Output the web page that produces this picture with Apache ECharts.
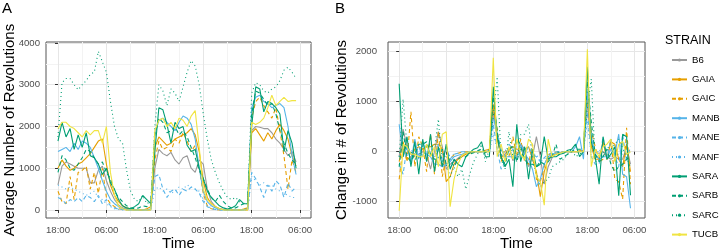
<!DOCTYPE html>
<html>
<head>
<meta charset="utf-8">
<script src="https://cdn.jsdelivr.net/npm/echarts@6/dist/echarts.min.js"></script>
<style>
  html, body { margin: 0; padding: 0; background: #fff; }
  #chart { width: 720px; height: 248px; }
</style>
</head>
<body>
<div id="chart"></div>
<script>
// hours after 18:00 on the first evening
const hours = [0, 1, 2, 3, 4, 5, 6, 7, 8, 9, 10, 11,
  12, 13, 14, 15, 16, 17, 18, 19, 20, 21, 22, 23,
  24, 25, 26, 27, 28, 29, 30, 31, 32, 33, 34, 35,
  36, 37, 38, 39, 40, 41, 42, 43, 44, 45, 46, 47,
  48, 49, 50, 51, 52, 53, 54, 55, 56, 57, 58, 59];

const tickHours = [0, 12, 24, 36, 48, 60];
const tickLabels = ['18:00', '06:00', '18:00', '06:00', '18:00', '06:00'];
const minorHours = [6, 18, 30, 42, 54];
const avgTicks = [0, 1000, 2000, 3000, 4000];
const chgTicks = [-1000, 0, 1000, 2000];

const strains = ['B6', 'GAIA', 'GAIC', 'MANB', 'MANE', 'MANF', 'SARA', 'SARB', 'SARC', 'TUCB'];
const strainColors = ['#999999', '#E69F00', '#E69F00', '#56B4E9', '#56B4E9', '#56B4E9', '#009E73', '#009E73', '#009E73', '#F0E442'];
const strainDash = ['solid', 'solid', 'dashed', 'solid', 'dashed', 'dotted', 'solid', 'dashed', 'dotted', 'solid'];

// Panel A - average number of revolutions
const avgB6 = [600, 1050, 1150, 1100, 1050, 1000, 1000, 1000, 650, 650, 950, 1050,
  700, 450, 250, 120, 50, 20, 0, 0, 0, 0, 0, 10,
  1000, 1450, 1350, 1300, 1380, 1200, 1100, 1250, 1300, 1000, 900, 1200,
  1100, 500, 200, 80, 30, 10, 0, 0, 0, 0, 0, 10,
  1900, 2000, 1980, 1950, 1950, 1850, 1700, 1600, 1450, 1300, 1400, 1150];
const avgGAIA = [1000, 1200, 1050, 950, 1000, 1100, 1150, 1250, 1350, 1500, 1650, 1700,
  1100, 600, 350, 200, 100, 50, 20, 10, 0, 0, 30, 80,
  1500, 1750, 1650, 1550, 1600, 1700, 1750, 1800, 1850, 1950, 1800, 1400,
  700, 300, 150, 80, 30, 10, 0, 0, 0, 0, 20, 50,
  1850, 1950, 1800, 1650, 1850, 1700, 1900, 2050, 1900, 1700, 1300, 1050];
const avgGAIC = [450, 200, 150, 800, 250, 900, 950, 1050, 500, 900, 400, 1000,
  300, 150, 80, 30, 10, 0, 0, 0, 0, 0, 0, 0,
  1200, 1650, 1450, 1500, 1400, 1700, 1600, 1850, 1650, 1400, 1550, 1000,
  400, 100, 30, 10, 0, 0, 0, 0, 0, 0, 0, 0,
  2200, 2600, 2700, 2500, 2350, 2200, 2450, 1900, 1300, 500, 1200, 900];
const avgMANB = [1400, 1450, 1500, 1400, 1600, 1450, 1650, 1600, 1500, 1250, 1000, 700,
  450, 250, 150, 80, 30, 10, 0, 0, 0, 0, 0, 20,
  1800, 2150, 2200, 2100, 2000, 1900, 2100, 2250, 2200, 2050, 1700, 1000,
  450, 200, 100, 50, 20, 0, 0, 0, 0, 0, 0, 30,
  2450, 2700, 2750, 2600, 2550, 2450, 2500, 2550, 2450, 2000, 1300, 850];
const avgMANE = [300, 250, 150, 250, 200, 300, 200, 350, 300, 200, 350, 150,
  250, 100, 50, 20, 10, 0, 0, 0, 0, 0, 0, 20,
  800, 850, 500, 300, 450, 500, 350, 500, 450, 550, 500, 400,
  200, 80, 30, 10, 0, 0, 0, 0, 0, 0, 0, 10,
  900, 750, 550, 300, 600, 450, 700, 600, 300, 650, 450, 550];
const avgMANF = [600, 550, 500, 550, 500, 450, 400, 350, 400, 450, 300, 250,
  150, 80, 30, 10, 0, 0, 0, 0, 0, 0, 0, 0,
  500, 550, 450, 500, 400, 450, 550, 500, 600, 550, 500, 450,
  250, 100, 50, 20, 0, 0, 0, 0, 0, 0, 0, 0,
  800, 700, 600, 650, 550, 600, 500, 450, 400, 350, 300, 300];
const avgSARA = [1650, 2100, 1750, 1950, 1450, 1800, 1500, 1850, 1300, 1250, 1100, 850,
  1000, 650, 500, 250, 100, 50, 30, 80, 150, 350, 250, 150,
  1400, 2450, 2400, 2050, 1600, 2100, 1950, 2000, 1550, 1400, 1450, 1000,
  750, 450, 300, 200, 100, 50, 20, 50, 100, 250, 150, 150,
  2000, 2950, 2900, 2350, 2600, 2550, 2450, 2300, 1400, 1900, 1600, 1000];
const avgSARB = [900, 1300, 1200, 1000, 950, 1100, 1250, 1450, 1400, 1250, 1100, 1150,
  900, 750, 450, 300, 200, 100, 50, 30, 50, 100, 80, 100,
  1800, 2200, 2100, 1850, 1900, 2000, 1800, 1900, 1750, 1500, 1250, 950,
  750, 500, 300, 200, 350, 200, 100, 50, 50, 100, 150, 200,
  2300, 2850, 2800, 2650, 2500, 2550, 2300, 1900, 1600, 1350, 1200, 1100];
const avgSARC = [1750, 3050, 3150, 3150, 3000, 2880, 3000, 3100, 3250, 3300, 3800, 3550,
  3300, 2600, 2000, 1700, 1600, 950, 450, 250, 200, 350, 150, 200,
  2000, 3000, 2850, 2500, 2900, 2800, 2600, 2950, 3300, 3580, 3450, 3000,
  2300, 1700, 1200, 900, 650, 450, 300, 250, 300, 200, 150, 150,
  2800, 3050, 3000, 2850, 2800, 2900, 2950, 3100, 3350, 3420, 3300, 3150];
const avgTUCB = [1950, 2100, 2100, 2000, 1950, 1850, 1750, 1900, 1800, 1900, 1900, 1600,
  2000, 900, 350, 100, 30, 0, 0, 0, 0, 0, 0, 0,
  1900, 2150, 2200, 2000, 2100, 1950, 2200, 2150, 2000, 2250, 2380, 1500,
  500, 250, 150, 80, 30, 0, 0, 0, 0, 0, 0, 0,
  2100, 2050, 2100, 2200, 2450, 2750, 2500, 2600, 2700, 2600, 2620, 2620];

// Panel B - change in # of revolutions
const chgB6 = [-100, 450, 100, -50, -50, -50, 0, -50, -350, 0, 400, 100,
  -350, -250, -200, -130, -70, -30, 0, 0, 0, 0, 0, 20,
  800, 300, -100, -50, 80, -180, -100, 150, 50, -300, -100, 300,
  -100, -650, -300, -120, -50, -20, 0, 0, 0, 0, 0, 10,
  1000, 100, -20, -30, 0, -100, -150, -100, -150, -150, 100, -250];
const chgGAIA = [-200, 200, -150, -100, 50, 100, 50, 100, 100, 150, 150, 50,
  -600, -500, -250, -150, -100, -50, -30, 0, 0, 0, 30, 50,
  950, 250, -100, -100, 50, 100, 50, 50, 50, 100, -150, -400,
  -900, -400, -150, -70, -50, -20, 0, 0, 0, 0, 20, 30,
  1100, 100, -150, -150, 200, -150, 200, 150, -150, -300, 150, -400];
const chgGAIC = [-550, 100, -200, 800, -300, 300, 100, -400, 350, -450, 400, -500,
  -100, -150, -60, -30, -10, 0, 0, 0, 0, 0, 0, 0,
  900, 450, -200, 50, -100, 300, -100, 250, -200, -250, 150, -550,
  -600, -300, -70, -20, -10, 0, 0, 0, 0, 0, 0, 0,
  1200, 400, 100, -200, -150, -150, 250, -550, -600, -950, 480, -650];
const chgMANB = [550, -100, 100, -200, 250, -150, 200, -50, -100, -250, -250, -300,
  -250, -200, -100, -70, -50, -20, 0, 0, 0, 0, 0, 20,
  700, 350, 50, -100, -100, -100, 200, 150, -50, -150, -350, -700,
  -550, -250, -100, -50, -30, -20, 0, 0, 0, 100, 300, -150,
  1200, 300, -50, -150, -100, -100, 50, -50, 350, -450, -500, -1130];
const chgMANE = [-250, -450, 100, -100, -50, 100, -100, 150, -50, -100, 150, -200,
  100, -150, -50, -30, 0, 0, 0, 0, 0, 0, 0, 20,
  550, 50, -350, -200, 150, 50, -150, 150, -50, 100, -50, -100,
  -200, -120, -50, -30, 0, 0, 0, 0, 0, 0, 0, 10,
  800, -100, -250, -250, 300, -150, 250, -100, -300, 350, -200, 100];
const chgMANF = [-100, -50, -50, 50, -50, -50, -50, -50, 50, 50, -150, -50,
  -100, -70, -50, -30, 0, 0, 0, 0, 0, 0, 0, 0,
  350, 50, -100, 50, -100, 50, 100, -50, 100, -50, -50, -50,
  -200, -150, -50, -20, 0, 0, 0, 0, 0, 0, 0, 0,
  600, -100, -100, 50, -100, 50, -100, -50, -50, -50, -50, 0];
const chgSARA = [1360, -100, 300, -300, 200, -450, 250, -200, 350, -400, 100, -300,
  150, -350, -150, -250, -300, -100, -20, 50, 80, 200, -100, -100,
  1300, 300, -100, -300, -150, -700, 550, -200, 100, -550, 50, -300,
  -250, 300, -150, -100, -100, -50, -30, 30, 50, 150, -100, 0,
  1700, 200, -100, -650, 300, -150, -50, 100, -880, 350, 300, -870];
const chgSARB = [-300, 400, -100, -200, -50, 150, 150, 200, -50, -150, -150, 50,
  -250, -150, -300, -150, -100, -100, -50, -20, 20, 50, -20, 20,
  1100, 400, -100, -250, 50, 100, -200, 100, -150, -250, -250, -300,
  -200, -250, -200, -100, 150, -150, -100, -50, 0, 50, 50, 50,
  1400, 600, -50, -200, -100, 50, -250, -400, -300, -250, -150, -100];
const chgSARC = [-100, 1050, 100, 0, -150, -120, 120, 100, 150, 50, 650, -250,
  -250, -500, -300, -500, -350, -750, -450, -200, -50, 150, -200, 50,
  700, 1500, -150, -350, 400, -100, -200, 350, 350, 550, -150, -450,
  -700, -600, -550, -300, -250, -200, -150, -50, 50, -100, -50, 0,
  900, 1450, -200, -150, -50, 100, 50, 150, 250, 70, -120, -300];
const chgTUCB = [-1180, 150, 100, -50, -50, -100, -100, 150, -100, 100, -300, 350,
  400, -1100, -550, -250, -70, -30, 0, 0, 0, 0, 0, 0,
  1880, -100, 150, -200, 100, -150, 250, -50, -150, 250, 150, -500,
  -600, -1070, 250, -100, -50, -30, 0, 0, 0, 0, 0, 0,
  2050, -300, 50, -100, 100, 150, 250, -200, 150, 200, -50, 0];

const avgValues = [avgB6, avgGAIA, avgGAIC, avgMANB, avgMANE, avgMANF, avgSARA, avgSARB, avgSARC, avgTUCB];
const chgValues = [chgB6, chgGAIA, chgGAIC, chgMANB, chgMANE, chgMANF, chgSARA, chgSARB, chgSARC, chgTUCB];

const font = '"Liberation Sans", Arial, Helvetica, sans-serif';
const dashTypes = { solid: 'solid', dashed: [4, 3], dotted: [1, 3] };

function pairs(values) {
    return hours.map((h, i) => [h, values[i]]);
}

function strainSeries(i, values, xIdx, yIdx) {
    return {
        name: strains[i],
        type: 'line',
        xAxisIndex: xIdx,
        yAxisIndex: yIdx,
        data: pairs(values),
        showSymbol: false,
        symbol: 'circle',
        color: strainColors[i],
        lineStyle: { width: 1.1, type: dashTypes[strainDash[i]], color: strainColors[i] },
        silent: true
    };
}

function mainX(grid, min, max) {
    return {
        type: 'value', gridIndex: grid, min: min, max: max,
        name: 'Time', nameLocation: 'middle', nameGap: 18, nameMoveOverlap: false,
        nameTextStyle: { fontSize: 15, color: '#000', fontFamily: font },
        axisLine: { show: false },
        axisTick: { show: true, length: 3, customValues: tickHours, lineStyle: { color: '#333', width: 1 } },
        axisLabel: {
            customValues: tickHours,
            formatter: v => tickLabels[tickHours.indexOf(v)],
            color: '#4d4d4d', fontSize: 9.6, margin: 7, fontFamily: font
        },
        splitLine: { show: true, lineStyle: { color: '#e6e6e6', width: 1 } }
    };
}

function minorX(grid, min, max) {
    return {
        type: 'value', gridIndex: grid, min: min, max: max,
        axisLine: { show: false },
        axisTick: { show: false, customValues: minorHours },
        axisLabel: { show: false },
        splitLine: { show: true, lineStyle: { color: '#f3f3f3', width: 1 } }
    };
}

function yAxisFor(grid, min, max, ticks, title, gap, margin) {
    return {
        type: 'value', gridIndex: grid, min: min, max: max,
        name: title, nameLocation: 'middle', nameGap: gap, nameRotate: 90, nameMoveOverlap: false,
        nameTextStyle: { fontSize: 15, color: '#000', fontFamily: font },
        axisLine: { show: false },
        axisTick: { show: true, length: 3, customValues: ticks, lineStyle: { color: '#333', width: 1 } },
        axisLabel: {
            customValues: ticks,
            formatter: v => String(v),
            color: '#4d4d4d', fontSize: 9.6, margin: margin, fontFamily: font
        },
        splitLine: { show: true, lineStyle: { color: '#e6e6e6', width: 1 } },
        minorTick: { show: false, splitNumber: 2 },
        minorSplitLine: { show: true, lineStyle: { color: '#f3f3f3', width: 1 } }
    };
}

const series = [];
strains.forEach((s, i) => series.push(strainSeries(i, avgValues[i], 0, 0)));
strains.forEach((s, i) => series.push(strainSeries(i, chgValues[i], 2, 1)));

const chart = echarts.init(document.getElementById('chart'));
chart.setOption({
    animation: false,
    textStyle: { fontFamily: font },
    title: [
        { text: 'A', left: 2, top: 1, padding: 0, textStyle: { fontSize: 15, fontWeight: 'normal', color: '#000', fontFamily: font } },
        { text: 'B', left: 335, top: 1, padding: 0, textStyle: { fontSize: 15, fontWeight: 'normal', color: '#000', fontFamily: font } },
        { text: 'STRAIN', left: 665, top: 34, padding: 0, textStyle: { fontSize: 12.5, fontWeight: 'normal', color: '#000', fontFamily: font } }
    ],
    legend: {
        orient: 'vertical', left: 666, top: 49, height: 198,
        itemWidth: 15, itemHeight: 4, itemGap: 7.4,
        selectedMode: false,
        data: strains,
        textStyle: { fontSize: 9.6, color: '#000', lineHeight: 12, fontFamily: font }
    },
    grid: [
        { left: 46, top: 42, width: 265, height: 176, outerBoundsMode: 'none', containLabel: false,
          show: true, borderColor: '#555', borderWidth: 1, backgroundColor: '#fff' },
        { left: 388, top: 42, width: 257, height: 176, outerBoundsMode: 'none', containLabel: false,
          show: true, borderColor: '#555', borderWidth: 1, backgroundColor: '#fff' }
    ],
    xAxis: [
        mainX(0, -2.97, 62.7),
        minorX(0, -2.97, 62.7),
        mainX(1, -2.85, 62.7),
        minorX(1, -2.85, 62.7)
    ],
    yAxis: [
        yAxisFor(0, -192, 4024, avgTicks, 'Average Number of Revolutions', 29, 6),
        yAxisFor(1, -1326, 2194, chgTicks, 'Change in # of Revolutions', 39, 11)
    ],
    series: series
});
</script>
</body>
</html>
